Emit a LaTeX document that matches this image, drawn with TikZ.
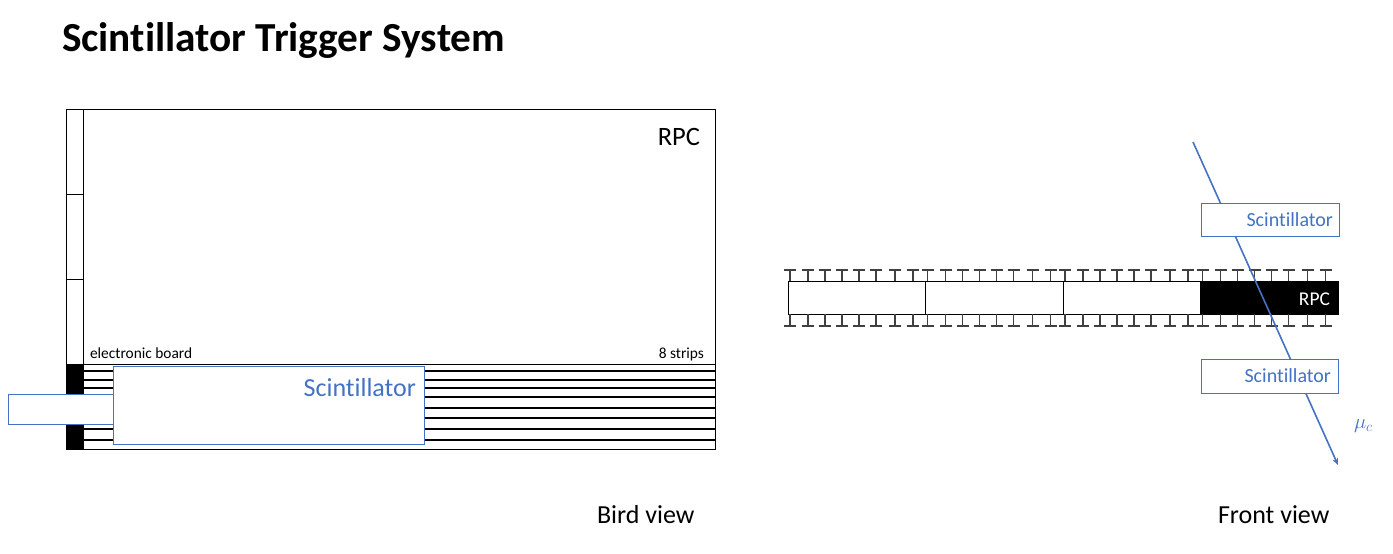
\documentclass[tikz,border=0pt]{standalone}
\usepackage{fontspec}
\setmainfont{Carlito}[Ligatures=NoCommon]
\usepackage{tikz}
\usetikzlibrary{arrows.meta, positioning}
\definecolor{scintblue}{HTML}{4472C4}

\begin{document}
\begin{tikzpicture}[x=1pt, y=-1pt, >=Stealth,
        box/.style={rectangle, draw, fill=white, inner sep=0pt, outer sep=0pt, line width=1pt},
        black_box/.style={box, fill=black},
        scint_box/.style={rectangle, draw=scintblue, fill=white, inner sep=0pt, outer sep=0pt, line width=1pt},
        label/.style={inner sep=0pt, outer sep=0pt},
        scint_label/.style={label, text=scintblue},
        strip/.style={draw, line width=2.2pt},
        tick/.style={draw=black!75, line width=1.2pt},
        muon/.style={draw=scintblue, -{Stealth[length=7pt,width=6pt]}, line width=1.6pt}]
    \useasboundingbox (0,0) rectangle (1393,554);

    % Title
    \node [label, anchor=west, font=\fontsize{41.3}{41.3}\selectfont\bfseries] (title) at (62,41) {Scintillator Trigger System};

    % Bird view nodes
    \node [box, anchor=north west, minimum width=649, minimum height=340] (rpc_bird) at (66,109) {};
    \node [box, anchor=north west, minimum width=17, minimum height=85] (cell_a) at (66,109) {};
    \node [box, below=0pt of cell_a, minimum width=17, minimum height=85] (cell_b) {};
    \node [box, below=0pt of cell_b, minimum width=17, minimum height=85] (cell_c) {};
    \node [black_box, below=0pt of cell_c, minimum width=17, minimum height=85] (cell_d) {};
    \node [box, anchor=south east, minimum width=632, minimum height=85] (board) at (rpc_bird.south east) {};

    % 8 strips
    \foreach \y in {371,380,388,397,408,418,429,440}
        \path [strip] (83,\y) -- (715,\y);

    \node [scint_box, anchor=north west, minimum width=105, minimum height=30] (scint_tail) at (8,394) {};
    \node [scint_box, anchor=north west, minimum width=311, minimum height=78] (scint_bird) at (113,366) {};

    \node [label, below left=19pt and 15pt of rpc_bird.north east, font=\fontsize{26.5}{26.5}\selectfont] (rpc_label) {RPC};
    \node [label, above right=5pt and 7pt of board.north west, font=\fontsize{15.4}{15.4}\selectfont] (board_label) {electronic board};
    \node [label, above left=3pt and 11pt of board.north east, font=\fontsize{15.4}{15.4}\selectfont] (strips_label) {8 strips};
    \node [scint_label, below left=12pt and 8pt of scint_bird.north east, font=\fontsize{26}{26}\selectfont] (scint_bird_label) {Scintillator};
    \node [label, anchor=west, font=\fontsize{26}{26}\selectfont] (bird_caption) at (597,515) {Bird view};

    % Front view nodes
    \node [box, anchor=north west, minimum width=137.5, minimum height=33] (seg_a) at (788,281) {};
    \node [box, right=0pt of seg_a, minimum width=137.5, minimum height=33] (seg_b) {};
    \node [box, right=0pt of seg_b, minimum width=137.5, minimum height=33] (seg_c) {};
    \node [black_box, right=0pt of seg_c, minimum width=137.5, minimum height=33] (seg_d) {};
    \node [label, left=8pt of seg_d.east, yshift=-2pt, text=white, font=\fontsize{19.5}{19.5}\selectfont] (rpc_front_label) {RPC};

    % Ticks above and below the segments
    \foreach \seg in {788,925.5,1063,1200.5}
        \foreach \dx in {2,20,37,54,71,88,107,125} {
            \path [tick] (\seg+\dx-6,270) -- (\seg+\dx+6,270) (\seg+\dx,270) -- (\seg+\dx,281);
            \path [tick] (\seg+\dx-6,326) -- (\seg+\dx+6,326) (\seg+\dx,326) -- (\seg+\dx,314);
        }

    % Muon track
    \coordinate (mu_start) at (1193,142);
    \coordinate (mu_end) at (1338,465);
    \path [muon] (mu_start) -- (mu_end);

    \node [scint_box, anchor=north west, minimum width=138, minimum height=33] (scint_top) at (1201,203) {};
    \node [scint_box, anchor=north west, minimum width=137, minimum height=34] (scint_bottom) at (1201,359) {};
    \node [scint_label, left=6pt of scint_top.east, font=\fontsize{20}{20}\selectfont] (scint_top_label) {Scintillator};
    \node [scint_label, left=7pt of scint_bottom.east, font=\fontsize{20}{20}\selectfont] (scint_bottom_label) {Scintillator};
    \node [label, anchor=west, text=scintblue, font=\fontsize{20}{20}\selectfont] (mu_label) at (1354,426) {$\mu_c$};
    \node [label, anchor=west, font=\fontsize{26}{26}\selectfont] (front_caption) at (1218,515) {Front view};
\end{tikzpicture}
\end{document}
